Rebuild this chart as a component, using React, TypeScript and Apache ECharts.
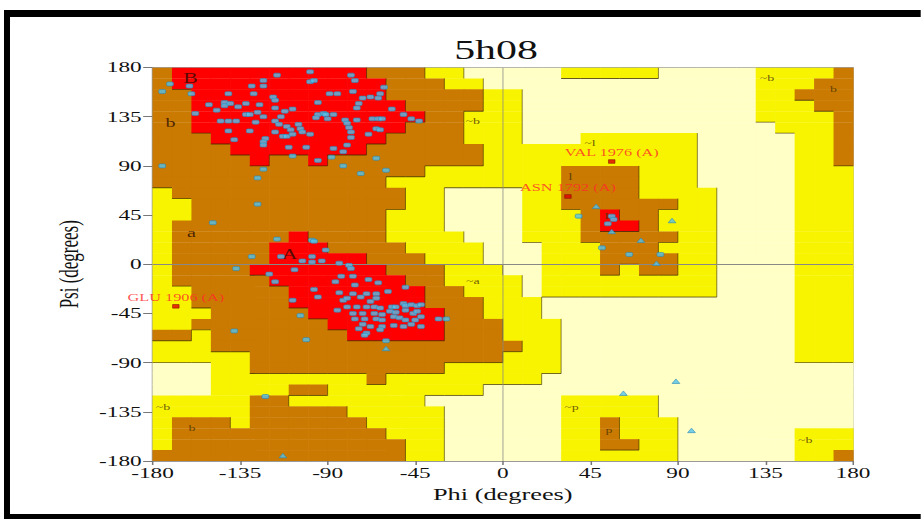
import React, { useEffect, useRef } from "react";
import * as echarts from "echarts";

const FULL_W = 921;
const FULL_H = 519;
const STRETCH = 1.55;
const W0 = FULL_W / STRETCH;
const FONT = "'Liberation Serif', 'Times New Roman', serif";

const TITLE = "5h08";
const X_NAME = "Phi (degrees)";
const Y_NAME = "Psi (degrees)";
const AXIS_MIN = -180;
const AXIS_MAX = 180;
const TICK_STEP = 45;
const CELL = 10;

// Region map: 36 rows (psi 180 -> -180), 36 cells per row (phi -180 -> 180)
// R = most favoured, B = additional allowed, Y = generously allowed, W = disallowed
const REGION_ROWS: string[] = [
  "BRRRRRRRRRRBBBYYWW" + "WWWYYYYYWWWWWYYYYB",
  "BRRRRRRRRRRRBBBYYW" + "WWWWWWWWWWWWWYYYBB",
  "BBRRRRRRRRRRBBBBBY" + "YWWWWWWWWWWWWYYBBB",
  "BBRRRRRRRRRRRBBBBY" + "YWWWWWWWWWWWWYYYBB",
  "BBRRRRRRRRRRRRBBYY" + "YWWWWWWWWWWWWYYYYB",
  "BBRRRRRRRRRRRBBBYY" + "YWWWWWWWWWWWWWYYYB",
  "BBBRRRRRRRRRBBBBYY" + "YWWWYYYYYYWWWWWYYB",
  "BBBBRRRRRRRBBBBBBY" + "YYYYYYYYYYWWWWWYYB",
  "BBBBBRBBRBBBBBBBBY" + "YYYYYYYYYYWWWWWYYB",
  "BBBBBBBBBBBBBBYYYY" + "YYYBBBBYYYWWWWWYYY",
  "BBBBBBBBBBBBYYYYYY" + "YYYBBBBYYYWWWWWYYY",
  "YBBBBBBBBBBBBYYWWW" + "WYYBBBBYYYYWWWWYYY",
  "YYBBBBBBBBBBBYYWWW" + "WYYBBBBBBYYWWWWYYY",
  "YYBBBBBBBBBBYYYWWW" + "WYYYBRBBYYYWWWWYYY",
  "YBBBBBBBBBBBYYYWWW" + "WYYYBRRBYYYWWWWYYY",
  "YBBBBBBRBBBBYYYYWW" + "WYYYBBBBBYYWWWWYYY",
  "YBBBBBRRRBBBBYYYYW" + "WWYYYBBBYYYWWWWYYY",
  "YBBBBBRRRRRBBBYYYW" + "WWYYYBBBBYYWWWWYYY",
  "YBBBBRRRRRRRBBBYYY" + "WWYYYBYBBYYWWWWYYY",
  "YBBBBBRRRRRRRBBYYY" + "YWYYYYYYYYYWWWWYYY",
  "YYBBBBBRRRRRRRBBYY" + "YWYYYYYYYYYWWWWYYY",
  "YYBBBBBRRRRRRRBBBY" + "YYWWWWWWWWWWWWWYYY",
  "YYYBBBBBRRRRRRRBBY" + "YYWWWWWWWWWWWWWYYY",
  "YYBBBBBBBRRRRRRBBB" + "YYYWWWWWWWWWWWWYYY",
  "BBYBBBBBBBRRRRRBBB" + "YYYWWWWWWWWWWWWYYY",
  "YYYBBBBBBBBBBBBBBB" + "BYYWWWWWWWWWWWWYYY",
  "YYYYYBBBBBBBBBBBBB" + "YYYWWWWWWWWWWWWYYY",
  "WWWYYBBBBBBBBBBYYY" + "YYYWWWWWWWWWWWWWWW",
  "WWWYYYYYYYYBYYYYYY" + "YYWWWWWWWWWWWWWWWW",
  "WWWYYYYBBYYYYYYYYW" + "WWWWWWWWWWWWWWWWWW",
  "YYYYYBBYYYYYYYWWWW" + "WWWYYYYYWWWWWWWWWW",
  "YYYYYBBBBBYYYYYWWW" + "WWWYYYYYWWWWWWWWWW",
  "YBBBYBBBBBBYYYYWWW" + "WWWYYBYYYWWWWWWWWW",
  "YBBBBBBBBBBBYYYWWW" + "WWWYYBYYYWWWWWWYYY",
  "YBBBBBBBBBBBBYYWWW" + "WWWYYBBYYWWWWWWYYY",
  "BBBBBBBBBBBBBYYWWW" + "WWWYYYYYYWWWWWWYYB",
];
const LEVEL_OF: Record<string, number> = { W: 0, Y: 1, B: 2, R: 3 };
const LEVEL_COLORS = ["#FFFFC6", "#F8F400", "#CA7A00", "#FF0000"];

// residues (phi, psi)
const betaResidues: number[][] = [
  [-171, 165], [-175, 158], [-161, 163], [-160, 156], [-158, 138], [-151, 146], [-147, 141], [-145, 131],
  [-143, 148], [-143, 145], [-141, 156], [-140, 147], [-137, 131], [-141, 131], [-136, 144], [-132, 147],
  [-132, 137], [-129, 163], [-128, 156], [-125, 146], [-126, 139], [-130, 137], [-127, 130], [-123, 168],
  [-123, 163], [-123, 135], [-118, 153], [-117, 150], [-116, 173], [-117, 143], [-117, 131], [-115, 128],
  [-114, 135], [-112, 140], [-108, 142], [-111, 126], [-109, 123], [-105, 128], [-104, 124], [-99, 176],
  [-99, 167], [-97, 168], [-95, 148], [-95, 137], [-92, 138], [-91, 137], [-89, 156], [-85, 156],
  [-87, 137], [-90, 133], [-96, 134], [-78, 173], [-76, 168], [-77, 158], [-74, 147], [-75, 143],
  [-72, 152], [-68, 153], [-64, 152], [-63, 156], [-61, 162], [-81, 132], [-80, 129], [-79, 125],
  [-75, 132], [-67, 133], [-64, 133], [-62, 133], [-65, 124], [-63, 123], [-69, 119], [-78, 121],
  [-78, 116], [-57, 142], [-51, 137], [-47, 133], [-43, 131], [-141, 122], [-138, 114], [-130, 122],
  [-122, 115], [-123, 112], [-123, 109], [-117, 121], [-113, 117], [-111, 117], [-108, 119], [-103, 121],
  [-99, 119], [-110, 107], [-101, 107], [-87, 106], [-82, 103], [-80, 109], [-108, 99], [-95, 95],
  [-88, 98], [-82, 90], [-73, 83], [-65, 97], [-60, 86], [-123, 87], [-126, 79], [-175, 90],
  [-126, 55], [-149, 38],
];
const alphaResidues: number[][] = [
  [-116, 23], [-129, 7], [-98, 22], [-97, 21], [-91, 13], [-98, 7], [-98, 2], [-93, 3], [-103, 3],
  [-114, 7], [-107, -5], [-84, 1], [-79, -1], [-78, -4], [-120, -9], [-117, -16], [-86, -16], [-83, -11],
  [-77, -11], [-76, -19], [-69, -14], [-64, -17], [-97, -23], [-95, -30], [-84, -26], [-77, -27],
  [-70, -27], [-65, -27], [-65, -31], [-59, -25], [-50, -21], [-82, -33], [-80, -31], [-73, -30],
  [-68, -34], [-108, -33], [-104, -47], [-85, -42], [-80, -39], [-75, -39], [-70, -39], [-66, -39],
  [-63, -40], [-57, -39], [-55, -39], [-51, -36], [-50, -38], [-47, -37], [-44, -38], [-42, -37],
  [-77, -45], [-72, -45], [-66, -45], [-62, -46], [-58, -43], [-55, -44], [-50, -42], [-46, -45],
  [-44, -43], [-76, -50], [-71, -50], [-65, -50], [-62, -51], [-56, -48], [-53, -49], [-50, -51],
  [-45, -51], [-42, -48], [-72, -55], [-68, -57], [-62, -57], [-56, -56], [-51, -57], [-47, -55],
  [-42, -57], [-33, -50], [-29, -50], [-74, -59], [-70, -63], [-63, -60], [-71, -65], [-101, -69],
  [-60, -70], [-137, -4], [-138, -61], [-122, -121],
];
const leftHandedResidues: number[][] = [
  [39, 44], [56, 44], [57, 41], [54, 37], [51, 15], [65, 9], [81, 9],
];
const glycines: number[][] = [
  [48, 53], [56, 30], [87, 40], [71, 22], [79, 1], [62, -118], [89, -107], [97, -152], [-60, -77], [-113, -175],
];
const outlierNames = ["GLU 1906 (A)", "VAL 1976 (A)", "ASN 1792 (A)"];
const outlierPhi = [-168, 56, 33.5];
const outlierPsi = [-38.5, 94, 62];

// region labels: text, phi, psi, size
const regionLabelText = ["B", "b", "A", "a", "~b", "~a", "~l", "l", "L", "~b", "b", "~b", "b", "~p", "p", "~b"];
const regionLabelPhi = [-160.5, -170.7, -109.5, -160, -15.4, -15.4, 44.8, 34.8, 54.3, 135.8, 170, -174.6, -159.7, 35.3, 54.6, 155.4];
const regionLabelPsi = [170, 129.6, 8.7, 29, 130.5, -16, 110.4, 80.2, 44, 170, 160, -130.5, -149.8, -130.5, -151.6, -160.7];
const regionLabelSize = [14, 13, 14, 13, 9, 9, 9, 10, 9, 9, 9, 9, 9, 9, 9, 9];

function buildCells() {
  const cells: number[][] = [];
  REGION_ROWS.forEach((row, m) => {
    for (let k = 0; k < row.length; k++) {
      cells.push([AXIS_MIN + CELL * k, AXIS_MAX - CELL * (m + 1), LEVEL_OF[row[k]]]);
    }
  });
  return cells;
}

function buildBoundaries() {
  const segs: number[][] = [];
  const n = REGION_ROWS.length;
  for (let m = 0; m < n; m++) {
    const row = REGION_ROWS[m];
    for (let k = 0; k < row.length; k++) {
      const lv = LEVEL_OF[row[k]];
      const x0 = AXIS_MIN + CELL * k;
      const yTop = AXIS_MAX - CELL * m;
      const yBot = yTop - CELL;
      if (k < row.length - 1 && lv > LEVEL_OF[row[k + 1]]) {
        segs.push([x0 + CELL, yTop, x0 + CELL, yBot]);
      }
      if (m < n - 1 && lv > LEVEL_OF[REGION_ROWS[m + 1][k]]) {
        segs.push([x0, yBot, x0 + CELL, yBot]);
      }
    }
  }
  return segs;
}

export default function App() {
  const ref = useRef<HTMLDivElement>(null);
  useEffect(() => {
    if (!ref.current) return;
    const chart = echarts.init(ref.current, null, { renderer: "svg" });
    const S = STRETCH;
    const pointStyle = { color: "#52C3EE", borderColor: "#2A86B8", borderWidth: 0.6 };
    const option: any = {
      animation: false,
      backgroundColor: "#ffffff",
      textStyle: { fontFamily: FONT },
      grid: {
        left: 152.5 / S,
        top: 67.5,
        width: 700.5 / S,
        height: 393.5,
        show: true,
        borderColor: "#a0a0a0",
        borderWidth: 1,
      },
      xAxis: {
        type: "value",
        min: AXIS_MIN,
        max: AXIS_MAX,
        interval: TICK_STEP,
        name: X_NAME,
        nameLocation: "middle",
        nameGap: 23,
        nameTextStyle: { fontFamily: FONT, fontSize: 17, color: "#111" },
        axisLine: { show: true, onZero: false, lineStyle: { color: "#999", width: 1 } },
        axisTick: { show: true, length: 4, lineStyle: { color: "#777" } },
        axisLabel: { fontFamily: FONT, fontSize: 15, color: "#111", margin: 5, showMinLabel: true, showMaxLabel: true },
        splitLine: { show: false },
      },
      yAxis: {
        type: "value",
        min: AXIS_MIN,
        max: AXIS_MAX,
        interval: TICK_STEP,
        name: Y_NAME,
        nameLocation: "middle",
        nameGap: 44,
        nameTextStyle: { fontFamily: FONT, fontSize: 17, color: "#111" },
        axisLine: { show: true, onZero: false, lineStyle: { color: "#999", width: 0.7 } },
        axisTick: { show: true, length: 6, lineStyle: { color: "#777" } },
        axisLabel: { fontFamily: FONT, fontSize: 15, color: "#111", margin: 7, showMinLabel: true, showMaxLabel: true },
        splitLine: { show: false },
      },
      graphic: [
        { type: "rect", shape: { x: 4 / S, y: 10, width: (FULL_W - 4) / S, height: 7 }, style: { fill: "#000" } },
        { type: "rect", shape: { x: 4 / S, y: 10, width: 6 / S, height: FULL_H - 10 }, style: { fill: "#000" } },
        { type: "rect", shape: { x: 4 / S, y: 514, width: (FULL_W - 4) / S, height: 6 }, style: { fill: "#000" } },
        {
          type: "text",
          x: 496 / S,
          y: 50,
          style: { text: TITLE, fontFamily: FONT, fontSize: 27, fill: "#111", textAlign: "center", textVerticalAlign: "middle" },
        },
      ],
      series: [
        {
          type: "custom",
          name: "regions",
          z: 1,
          clip: true,
          silent: true,
          data: buildCells(),
          renderItem: (params: any, api: any) => {
            const phi = api.value(0);
            const psi = api.value(1);
            const lv = api.value(2);
            const tl = api.coord([phi, psi + CELL]);
            const br = api.coord([phi + CELL, psi]);
            return {
              type: "rect",
              shape: { x: tl[0], y: tl[1], width: br[0] - tl[0] + 0.4, height: br[1] - tl[1] + 0.4 },
              style: { fill: LEVEL_COLORS[lv] },
            };
          },
          markLine: {
            silent: true,
            symbol: "none",
            label: { show: false },
            data: [
              { xAxis: 0, lineStyle: { color: "#888", width: 0.6, type: "solid" } },
              { yAxis: 0, lineStyle: { color: "#888", width: 0.9, type: "solid" } },
            ],
          },
        },
        {
          type: "custom",
          name: "boundaries",
          z: 2,
          clip: true,
          silent: true,
          data: buildBoundaries(),
          renderItem: (params: any, api: any) => {
            const a = api.coord([api.value(0), api.value(1)]);
            const b = api.coord([api.value(2), api.value(3)]);
            const vertical = api.value(0) === api.value(2);
            return {
              type: "line",
              shape: { x1: a[0], y1: a[1], x2: b[0], y2: b[1] },
              style: { stroke: "rgba(50,35,0,0.75)", lineWidth: vertical ? 0.6 : 0.9 },
            };
          },
        },
        {
          type: "scatter",
          name: "labels",
          z: 4,
          silent: true,
          symbolSize: 0.1,
          itemStyle: { color: "rgba(0,0,0,0)" },
          data: regionLabelText.map((t, i) => ({
            name: t,
            value: [regionLabelPhi[i], regionLabelPsi[i]],
            label: { fontSize: regionLabelSize[i], color: regionLabelSize[i] > 12 ? "#2a0c00" : "#4a3300" },
          })),
          label: {
            show: true,
            position: "inside",
            formatter: "{b}",
            fontFamily: FONT,
            color: "#3a2200",
          },
        },
        {
          type: "scatter",
          name: "residues",
          z: 5,
          symbol: "roundRect",
          symbolSize: [4.4, 4],
          itemStyle: pointStyle,
          data: [...betaResidues, ...alphaResidues, ...leftHandedResidues],
        },
        {
          type: "scatter",
          name: "glycine",
          z: 5,
          symbol: "triangle",
          symbolSize: [5, 4.5],
          itemStyle: pointStyle,
          data: glycines,
        },
        {
          type: "scatter",
          name: "outliers",
          z: 6,
          symbol: "rect",
          symbolSize: [4.2, 3.6],
          itemStyle: { color: "#E00000", borderColor: "#7a0000", borderWidth: 0.5 },
          data: outlierNames.map((n, i) => ({ name: n, value: [outlierPhi[i], outlierPsi[i]] })),
          label: {
            show: true,
            position: "top",
            distance: 1,
            formatter: "{b}",
            fontFamily: FONT,
            fontSize: 10.5,
            color: "#FF2A2A",
          },
        },
      ],
    };
    chart.setOption(option);
    return () => chart.dispose();
  }, []);
  return (
    <div
      style={{
        position: "fixed",
        left: 0,
        top: 0,
        width: FULL_W,
        height: FULL_H,
        overflow: "hidden",
        background: "#fff",
      }}
    >
      <div
        ref={ref}
        style={{ width: W0, height: FULL_H, transform: `scaleX(${STRETCH})`, transformOrigin: "0 0" }}
      />
    </div>
  );
}
